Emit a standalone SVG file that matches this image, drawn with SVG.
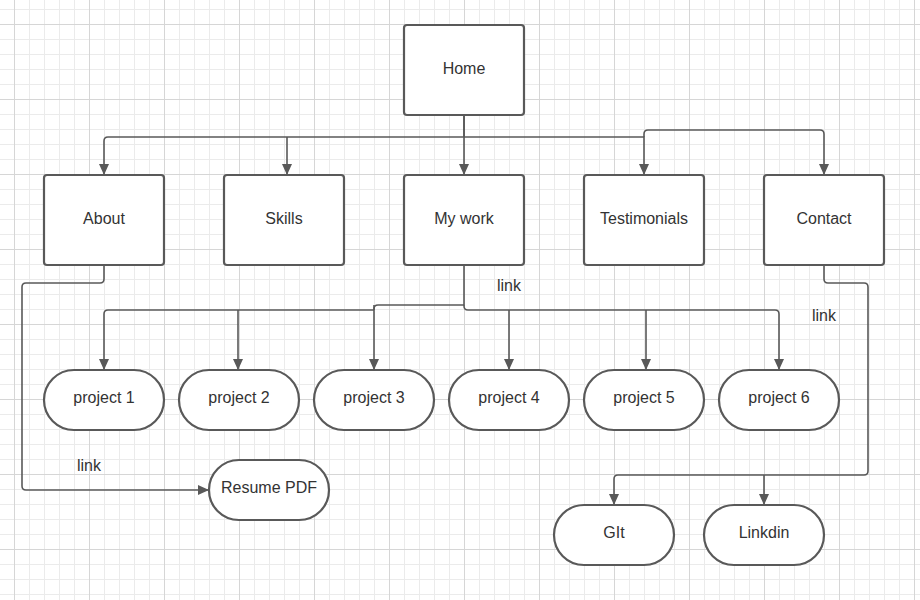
<svg xmlns="http://www.w3.org/2000/svg" width="920" height="600" viewBox="0 0 920 600">
<defs>
<pattern id="minor" patternUnits="userSpaceOnUse" x="14" y="9" width="15" height="15">
<rect x="0" y="0" width="1" height="15" fill="#ebebeb"/>
<rect x="0" y="0" width="15" height="1" fill="#ebebeb"/>
</pattern>
<pattern id="major" patternUnits="userSpaceOnUse" x="14" y="24" width="75" height="75">
<rect x="0" y="0" width="1" height="75" fill="#d6d6d6"/>
<rect x="0" y="0" width="75" height="1" fill="#d6d6d6"/>
</pattern>
<marker id="arr" markerWidth="12" markerHeight="10" refX="11" refY="5" orient="auto" markerUnits="userSpaceOnUse">
<path d="M0,0 L11,5 L0,10 Z" fill="#595959"/>
</marker>
<style>
.box{fill:#ffffff;stroke:#595959;stroke-width:2.2}
.t{font-family:"Liberation Sans",Arial,sans-serif;font-size:16px;fill:#333333;text-anchor:middle;dominant-baseline:central}
.c{fill:none;stroke:#595959;stroke-width:1.6;stroke-linejoin:round}
.ca{fill:none;stroke:#595959;stroke-width:1.6;stroke-linejoin:round;marker-end:url(#arr)}
</style>
</defs>
<rect width="920" height="600" fill="#ffffff"/>
<rect width="920" height="600" fill="url(#minor)"/>
<rect width="920" height="600" fill="url(#major)"/>

<g id="connectors">
<path class="ca" d="M464,115 V137 H108 Q104,137 104,141 V175"/>
<path class="ca" d="M287,137 V175"/>
<path class="ca" d="M464,115 V175"/>
<path class="ca" d="M464,137 H644 V175"/>
<path class="ca" d="M644,137 V134 Q644,130 648,130 H820 Q824,130 824,134 V175"/>
<path class="c" d="M464,265 V305 H378 Q374,305 374,309 V310"/>
<path class="ca" d="M374,305 V370"/>
<path class="ca" d="M374,310 H108 Q104,310 104,314 V370"/>
<path class="ca" d="M238,310 V370"/>
<path class="ca" d="M464,305 V306 Q464,310 468,310 H775 Q779,310 779,314 V370"/>
<path class="ca" d="M509,310 V370"/>
<path class="ca" d="M646,310 V370"/>
<path class="ca" d="M104,265 V279 Q104,283 100,283 H26 Q22,283 22,287 V486 Q22,490 26,490 H209"/>
<path class="ca" d="M824,265 V279 Q824,283 828,283 H864 Q868,283 868,287 V471 Q868,475 864,475 H618 Q614,475 614,479 V505"/>
<path class="ca" d="M764,475 V505"/>
<text class="t" x="509" y="285">link</text>
<text class="t" x="824" y="315">link</text>
<text class="t" x="89" y="465">link</text>
</g>

<g id="home"><rect class="box" x="404" y="25" width="120" height="90" rx="3"/><text class="t" x="464" y="68">Home</text></g>
<g id="about"><rect class="box" x="44" y="175" width="120" height="90" rx="3"/><text class="t" x="104" y="218">About</text></g>
<g id="skills"><rect class="box" x="224" y="175" width="120" height="90" rx="3"/><text class="t" x="284" y="218">Skills</text></g>
<g id="mywork"><rect class="box" x="404" y="175" width="120" height="90" rx="3"/><text class="t" x="464" y="218">My work</text></g>
<g id="testimonials"><rect class="box" x="584" y="175" width="120" height="90" rx="3"/><text class="t" x="644" y="218">Testimonials</text></g>
<g id="contact"><rect class="box" x="764" y="175" width="120" height="90" rx="3"/><text class="t" x="824" y="218">Contact</text></g>

<g id="project1"><rect class="box" x="44" y="370" width="120" height="60" rx="30"/><text class="t" x="104" y="397">project 1</text></g>
<g id="project2"><rect class="box" x="179" y="370" width="120" height="60" rx="30"/><text class="t" x="239" y="397">project 2</text></g>
<g id="project3"><rect class="box" x="314" y="370" width="120" height="60" rx="30"/><text class="t" x="374" y="397">project 3</text></g>
<g id="project4"><rect class="box" x="449" y="370" width="120" height="60" rx="30"/><text class="t" x="509" y="397">project 4</text></g>
<g id="project5"><rect class="box" x="584" y="370" width="120" height="60" rx="30"/><text class="t" x="644" y="397">project 5</text></g>
<g id="project6"><rect class="box" x="719" y="370" width="120" height="60" rx="30"/><text class="t" x="779" y="397">project 6</text></g>

<g id="resume"><rect class="box" x="209" y="460" width="120" height="60" rx="30"/><text class="t" x="269" y="487">Resume PDF</text></g>
<g id="git"><rect class="box" x="554" y="505" width="120" height="60" rx="30"/><text class="t" x="614" y="532">GIt</text></g>
<g id="linkdin"><rect class="box" x="704" y="505" width="120" height="60" rx="30"/><text class="t" x="764" y="532">Linkdin</text></g>
</svg>
